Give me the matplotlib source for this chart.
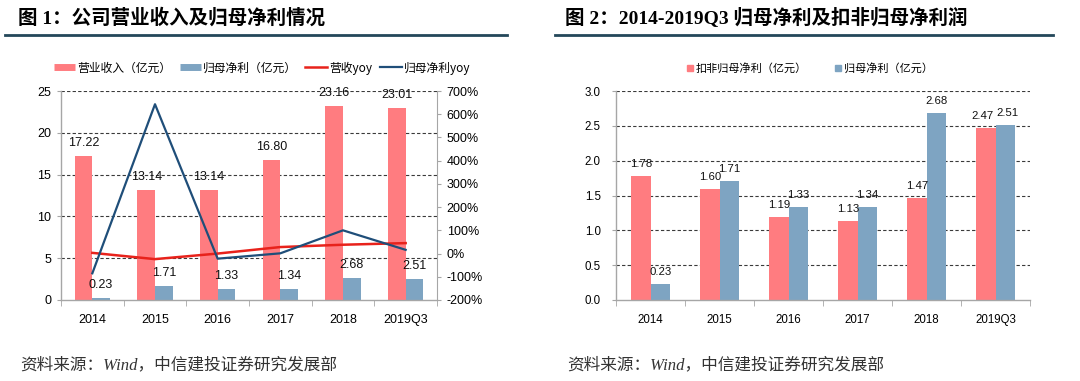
import matplotlib
matplotlib.use("Agg")
import matplotlib.pyplot as plt
import numpy as np
from matplotlib.lines import Line2D

plt.rcParams['font.family'] = ['Liberation Sans', 'Noto Sans CJK SC']
plt.rcParams['axes.unicode_minus'] = False

# ---- data ----
categories = ['2014', '2015', '2016', '2017', '2018', '2019Q3']
revenue = [17.22, 13.14, 13.14, 16.80, 23.16, 23.01]
net_profit = [0.23, 1.71, 1.33, 1.34, 2.68, 2.51]
revenue_yoy = [3, -24, 0, 28, 38, 45]          # %
net_profit_yoy = [-85, 643, -22, 1, 100, 16]   # %
deducted_profit = [1.78, 1.60, 1.19, 1.13, 1.47, 2.47]
net_profit2 = [0.23, 1.71, 1.33, 1.34, 2.68, 2.51]

PINK = '#FF7C80'
BLUE = '#7EA4C2'
RED = '#E8221B'
NAVY = '#1F4E79'
RULE = '#24475A'
GRAY = '#A6A6A6'

W, H = 1080, 381
fig = plt.figure(figsize=(W / 100, H / 100), dpi=100)

def fx(px):
    return px / W

def fy(py):
    return 1 - py / H

title_fam = ['Liberation Serif', 'Noto Sans CJK SC']
fig.text(fx(18), fy(18), '图 1：公司营业收入及归母净利情况', family=title_fam,
         fontsize=14, fontweight='bold', va='center', ha='left')
fig.text(fx(565), fy(18), '图 2：2014-2019Q3 归母净利及扣非归母净利润', family=title_fam,
         fontsize=14, fontweight='bold', va='center', ha='left')
fig.add_artist(Line2D([fx(5), fx(507)], [fy(35), fy(35)], color=RULE, lw=2))
fig.add_artist(Line2D([fx(555), fx(1053)], [fy(35), fy(35)], color=RULE, lw=2))

src_fam = ['Liberation Serif', 'Noto Sans CJK SC']
fig.text(fx(20), fy(365), '资料来源：Wind，中信建投证券研究发展部', family=src_fam,
         fontsize=12, style='italic', color='#333333', va='center', ha='left')
fig.text(fx(567), fy(365), '资料来源：Wind，中信建投证券研究发展部', family=src_fam,
         fontsize=12, style='italic', color='#333333', va='center', ha='left')

x = np.arange(len(categories))
bw = 0.28

def style_axes(ax, fs):
    ax.set_xlim(-0.5, len(categories) - 0.5)
    ax.set_xticks(x)
    ax.set_xticklabels(categories, fontsize=fs)
    ax.set_xticks(np.arange(-0.5, len(categories), 1), minor=True)
    ax.tick_params(axis='x', which='major', length=0, pad=10)
    ax.tick_params(axis='x', which='minor', length=4, color=GRAY, direction='out')
    ax.tick_params(axis='y', length=3, color=GRAY, labelsize=fs, pad=4)
    for s in ['top', 'right']:
        ax.spines[s].set_visible(False)
    for s in ['left', 'bottom']:
        ax.spines[s].set_color(GRAY)
        ax.spines[s].set_linewidth(1.0)

# ---- left chart ----
axL = fig.add_axes([fx(61), fy(300), fx(437) - fx(61), fy(91) - fy(300)])
style_axes(axL, 9)
axL.set_ylim(0, 25)
axL.set_yticks([0, 5, 10, 15, 20, 25])
for v in [5, 10, 15, 20, 25]:
    axL.axhline(v, color='#3A3A3A', lw=0.8, ls=(0, (3, 2)), zorder=0.5)
b1 = axL.bar(x - bw / 2, revenue, bw, color=PINK, zorder=2)
b2 = axL.bar(x + bw / 2, net_profit, bw, color=BLUE, zorder=2)
axL.bar_label(b1, labels=[f'{v:.2f}' for v in revenue], padding=5, fontsize=9, color='#111111')
axL.bar_label(b2, labels=[f'{v:.2f}' for v in net_profit], padding=5, fontsize=9, color='#111111')

axR = axL.twinx()
axR.set_ylim(-200, 700)
axR.set_yticks(np.arange(-200, 701, 100))
axR.set_yticklabels([f'{v}%' for v in range(-200, 701, 100)], fontsize=9)
axR.tick_params(axis='y', length=3, color=GRAY, pad=4)
for s in ['top', 'left', 'bottom']:
    axR.spines[s].set_visible(False)
axR.spines['right'].set_color(GRAY)
axR.plot(x, revenue_yoy, color=RED, lw=1.8, zorder=3)
axR.plot(x, net_profit_yoy, color=NAVY, lw=1.6, zorder=3)

leg_handles = [Line2D([], [], color=PINK, lw=5, solid_capstyle='butt'),
               Line2D([], [], color=BLUE, lw=5, solid_capstyle='butt'),
               Line2D([], [], color=RED, lw=1.8),
               Line2D([], [], color=NAVY, lw=1.6)]
leg_labels = ['营业收入（亿元）', '归母净利（亿元）', '营收yoy', '归母净利yoy']
fig.legend(leg_handles, leg_labels, loc='center', bbox_to_anchor=(fx(262), fy(68)),
           ncol=4, frameon=False, handlelength=1.8, handletextpad=0.2,
           columnspacing=0.7, prop={'family': ['Noto Sans CJK SC'], 'size': 8.5})

# ---- right chart ----
ax2 = fig.add_axes([fx(616), fy(300), fx(1030) - fx(616), fy(91) - fy(300)])
style_axes(ax2, 8.3)
ax2.set_ylim(0, 3.0)
ax2.set_yticks(np.arange(0, 3.01, 0.5))
ax2.set_yticklabels([f'{v:.1f}' for v in np.arange(0, 3.01, 0.5)])
ax2.tick_params(axis='y', pad=8)
for v in np.arange(0.5, 3.01, 0.5):
    ax2.axhline(v, color='#3A3A3A', lw=0.8, ls=(0, (3, 2)), zorder=0.5)
c1 = ax2.bar(x - bw / 2, deducted_profit, bw, color=PINK, zorder=2)
c2 = ax2.bar(x + bw / 2, net_profit2, bw, color=BLUE, zorder=2)
t1 = ax2.bar_label(c1, labels=[f'{v:.2f}' for v in deducted_profit], padding=5, fontsize=8.2, color='#111111')
t2 = ax2.bar_label(c2, labels=[f'{v:.2f}' for v in net_profit2], padding=5, fontsize=8.2, color='#111111')
# nudge the close 2019Q3 pair apart so they do not touch
t1[-1].xyann = (-2.5, 5)
t2[-1].xyann = (1.5, 5)

leg2_handles = [Line2D([], [], color=PINK, marker='s', ms=4, ls='none'),
                Line2D([], [], color=BLUE, marker='s', ms=4, ls='none')]
fig.legend(leg2_handles, ['扣非归母净利（亿元）', '归母净利（亿元）'], loc='center',
           bbox_to_anchor=(fx(810), fy(68)), ncol=2, frameon=False,
           handlelength=0.6, handletextpad=0.2, columnspacing=2.5,
           prop={'family': ['Noto Sans CJK SC'], 'size': 8})

fig.savefig('out.png', dpi=100)
